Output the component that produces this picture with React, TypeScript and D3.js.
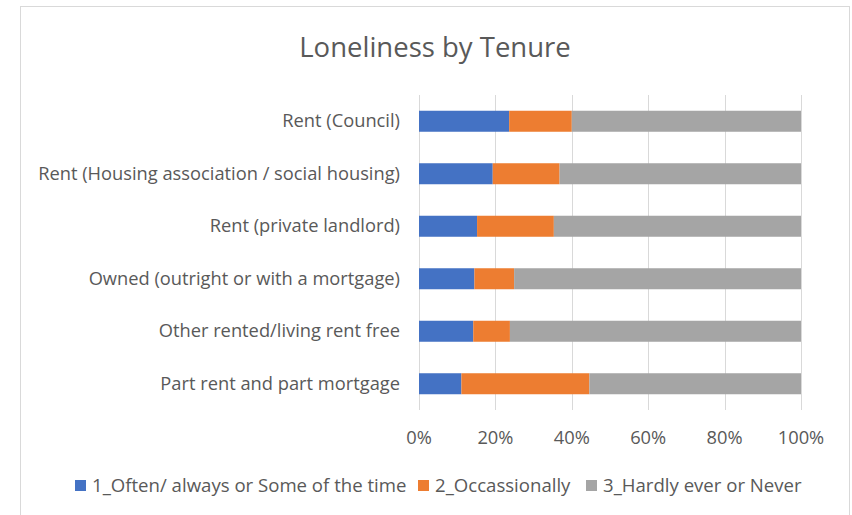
import React from 'react';
import * as d3 from 'd3';

const categories = [
  'Rent (Council)',
  'Rent (Housing association / social housing)',
  'Rent (private landlord)',
  'Owned (outright or with a mortgage)',
  'Other rented/living rent free',
  'Part rent and part mortgage',
];
const seriesNames = ['1_Often/ always or Some of the time', '2_Occassionally', '3_Hardly ever or Never'];
const often = [23.6, 19.3, 15.2, 14.5, 14.2, 11.1];
const occasionally = [16.4, 17.5, 20.1, 10.4, 9.6, 33.5];
const hardly = [60.0, 63.2, 64.7, 75.1, 76.2, 55.4];
const colors = ['#4472C4', '#ED7D31', '#A5A5A5'];
const ticks = [0, 20, 40, 60, 80, 100];

const W = 852;
const H = 515;
const FONT = "'Open Sans', sans-serif";
const TEXT = '#595959';
const FS = 18.3;

export default function App() {
  const rows = categories.map((c, i) => ({ cat: c, s0: often[i], s1: occasionally[i], s2: hardly[i] }));
  const stack = d3.stack<any>().keys(['s0', 's1', 's2'])(rows);

  const x = d3.scaleLinear().domain([0, 100]).range([419, 801]);
  const y = d3.scaleBand().domain(categories).range([95, 410]).paddingInner(0.6).paddingOuter(0.3);

  // legend layout
  const legendX = [75, 418, 586];

  return (
    <div style={{ position: 'absolute', left: 0, top: 0 }}>
      <svg width={W} height={H} style={{ display: 'block', background: '#fff' }}>
        <rect x={20.5} y={6.5} width={829} height={520} fill="#fff" stroke="#D9D9D9" />
        <text x={435} y={57} textAnchor="middle" fontFamily={FONT} fontSize={27.5} fill={TEXT}>
          Loneliness by Tenure
        </text>
        {ticks.map(t => (
          <line key={t} x1={Math.round(x(t)) + 0.5} x2={Math.round(x(t)) + 0.5} y1={95} y2={410} stroke="#D9D9D9" strokeWidth={1} />
        ))}
        {ticks.map(t => (
          <text key={'l' + t} x={x(t)} y={444} textAnchor="middle" fontFamily={FONT} fontSize={FS} fill={TEXT}>
            {t}%
          </text>
        ))}
        {categories.map(c => (
          <text key={c} x={400} y={(y(c) as number) + y.bandwidth() / 2 + 6} textAnchor="end" fontFamily={FONT} fontSize={FS} fill={TEXT}>
            {c}
          </text>
        ))}
        {stack.map((layer, si) => (
          <g key={si} fill={colors[si]}>
            {layer.map((d, i) => (
              <rect key={i} x={x(d[0])} y={y(categories[i])} width={x(d[1]) - x(d[0])} height={y.bandwidth()} />
            ))}
          </g>
        ))}
        {seriesNames.map((s, i) => (
          <g key={s}>
            <rect x={legendX[i]} y={480} width={11} height={11} fill={colors[i]} />
            <text x={legendX[i] + 17} y={492} fontFamily={FONT} fontSize={18.6} fill={TEXT}>
              {s}
            </text>
          </g>
        ))}
      </svg>
    </div>
  );
}
